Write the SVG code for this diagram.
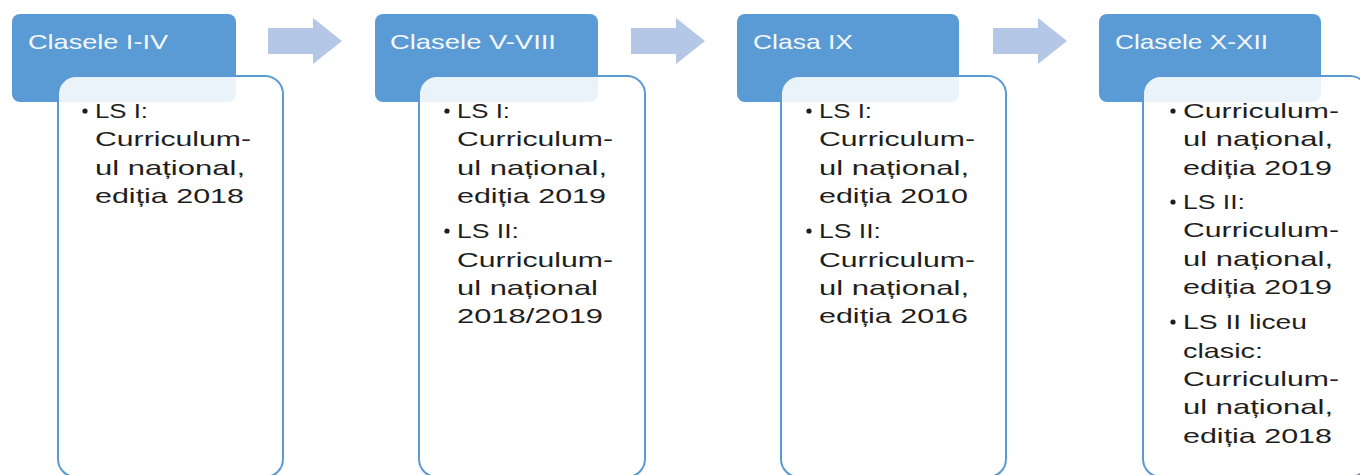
<svg xmlns="http://www.w3.org/2000/svg" width="1360" height="475" viewBox="0 0 1360 475">
<style>
.hdr{fill:#5b9bd5;}
.box{fill:#ffffff;fill-opacity:0.88;stroke:#5b9bd5;stroke-width:2;}
.ht{font-family:"Liberation Sans",Arial,sans-serif;font-size:21px;fill:#f4f8fc;}
.bt{font-family:"Liberation Sans",Arial,sans-serif;font-size:21px;fill:#1e1e1e;}
.dot{fill:#1e1e1e;}
.arr{fill:#b4c7e7;}
</style>
<rect width="1360" height="475" fill="#ffffff"/>
<g id="connectors">
<polygon class="arr" points="268,28 313,28 313,18 342,41 313,64 313,54 268,54"/>
<polygon class="arr" points="631,28 676,28 676,18 705,41 676,64 676,54 631,54"/>
<polygon class="arr" points="993,28 1038,28 1038,18 1067,41 1038,64 1038,54 993,54"/>
</g>
<g id="node1">
<rect class="hdr" x="12" y="14" width="224" height="88" rx="8"/>
<text class="ht" x="28" y="49" textLength="140" lengthAdjust="spacingAndGlyphs">Clasele I-IV</text>
<rect class="box" x="58" y="76" width="225" height="401" rx="18"/>
<circle class="dot" cx="85" cy="111" r="2.6"/>
<text class="bt" x="95" y="118" textLength="53" lengthAdjust="spacingAndGlyphs">LS I:</text>
<text class="bt" x="95" y="146.3" textLength="156" lengthAdjust="spacingAndGlyphs">Curriculum-</text>
<text class="bt" x="95" y="174.6" textLength="150" lengthAdjust="spacingAndGlyphs">ul național,</text>
<text class="bt" x="95" y="202.9" textLength="149" lengthAdjust="spacingAndGlyphs">ediția 2018</text>
</g>
<g id="node2">
<rect class="hdr" x="375" y="14" width="223" height="88" rx="8"/>
<text class="ht" x="390" y="49" textLength="166" lengthAdjust="spacingAndGlyphs">Clasele V-VIII</text>
<rect class="box" x="419" y="76" width="226" height="401" rx="18"/>
<circle class="dot" cx="447" cy="111" r="2.6"/>
<text class="bt" x="457" y="118" textLength="53" lengthAdjust="spacingAndGlyphs">LS I:</text>
<text class="bt" x="457" y="146.3" textLength="156" lengthAdjust="spacingAndGlyphs">Curriculum-</text>
<text class="bt" x="457" y="174.6" textLength="150" lengthAdjust="spacingAndGlyphs">ul național,</text>
<text class="bt" x="457" y="202.9" textLength="149" lengthAdjust="spacingAndGlyphs">ediția 2019</text>
<circle class="dot" cx="447" cy="231" r="2.6"/>
<text class="bt" x="457" y="238.2" textLength="62" lengthAdjust="spacingAndGlyphs">LS II:</text>
<text class="bt" x="457" y="266.5" textLength="156" lengthAdjust="spacingAndGlyphs">Curriculum-</text>
<text class="bt" x="457" y="294.8" textLength="141" lengthAdjust="spacingAndGlyphs">ul național</text>
<text class="bt" x="457" y="323.1" textLength="146" lengthAdjust="spacingAndGlyphs">2018/2019</text>
</g>
<g id="node3">
<rect class="hdr" x="737" y="14" width="222" height="88" rx="8"/>
<text class="ht" x="753" y="49" textLength="100" lengthAdjust="spacingAndGlyphs">Clasa IX</text>
<rect class="box" x="781" y="76" width="225" height="401" rx="18"/>
<circle class="dot" cx="809" cy="111" r="2.6"/>
<text class="bt" x="819" y="118" textLength="53" lengthAdjust="spacingAndGlyphs">LS I:</text>
<text class="bt" x="819" y="146.3" textLength="156" lengthAdjust="spacingAndGlyphs">Curriculum-</text>
<text class="bt" x="819" y="174.6" textLength="150" lengthAdjust="spacingAndGlyphs">ul național,</text>
<text class="bt" x="819" y="202.9" textLength="149" lengthAdjust="spacingAndGlyphs">ediția 2010</text>
<circle class="dot" cx="809" cy="231" r="2.6"/>
<text class="bt" x="819" y="238.2" textLength="62" lengthAdjust="spacingAndGlyphs">LS II:</text>
<text class="bt" x="819" y="266.5" textLength="156" lengthAdjust="spacingAndGlyphs">Curriculum-</text>
<text class="bt" x="819" y="294.8" textLength="150" lengthAdjust="spacingAndGlyphs">ul național,</text>
<text class="bt" x="819" y="323.1" textLength="149" lengthAdjust="spacingAndGlyphs">ediția 2016</text>
</g>
<g id="node4">
<rect class="hdr" x="1099" y="14" width="222" height="88" rx="8"/>
<text class="ht" x="1115" y="49" textLength="153" lengthAdjust="spacingAndGlyphs">Clasele X-XII</text>
<rect class="box" x="1143" y="76" width="225" height="401" rx="18"/>
<circle class="dot" cx="1173" cy="111" r="2.6"/>
<text class="bt" x="1183" y="118" textLength="156" lengthAdjust="spacingAndGlyphs">Curriculum-</text>
<text class="bt" x="1183" y="146.3" textLength="150" lengthAdjust="spacingAndGlyphs">ul național,</text>
<text class="bt" x="1183" y="174.6" textLength="149" lengthAdjust="spacingAndGlyphs">ediția 2019</text>
<circle class="dot" cx="1173" cy="202" r="2.6"/>
<text class="bt" x="1183" y="209" textLength="62" lengthAdjust="spacingAndGlyphs">LS II:</text>
<text class="bt" x="1183" y="237.3" textLength="156" lengthAdjust="spacingAndGlyphs">Curriculum-</text>
<text class="bt" x="1183" y="265.6" textLength="150" lengthAdjust="spacingAndGlyphs">ul național,</text>
<text class="bt" x="1183" y="293.9" textLength="149" lengthAdjust="spacingAndGlyphs">ediția 2019</text>
<circle class="dot" cx="1173" cy="322" r="2.6"/>
<text class="bt" x="1183" y="329.3" textLength="124" lengthAdjust="spacingAndGlyphs">LS II liceu</text>
<text class="bt" x="1183" y="357.6" textLength="80" lengthAdjust="spacingAndGlyphs">clasic:</text>
<text class="bt" x="1183" y="385.9" textLength="156" lengthAdjust="spacingAndGlyphs">Curriculum-</text>
<text class="bt" x="1183" y="414.2" textLength="150" lengthAdjust="spacingAndGlyphs">ul național,</text>
<text class="bt" x="1183" y="442.5" textLength="149" lengthAdjust="spacingAndGlyphs">ediția 2018</text>
</g>
</svg>
